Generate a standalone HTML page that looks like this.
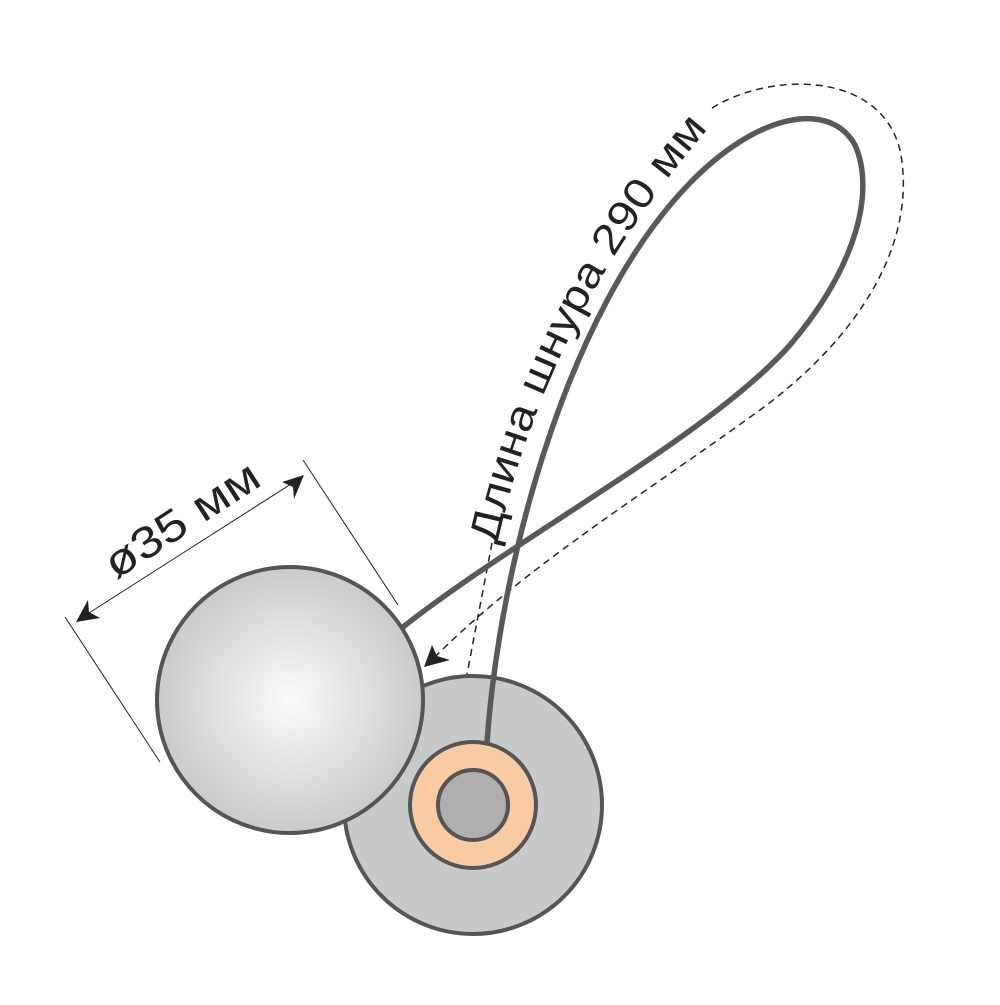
<!DOCTYPE html>
<html><head><meta charset="utf-8"><style>html,body{margin:0;padding:0;background:#fff}</style></head>
<body>
<svg width="1000" height="1000" viewBox="0 0 1000 1000" xmlns="http://www.w3.org/2000/svg">
<defs>
<radialGradient id="g" cx="290" cy="700" r="133" gradientUnits="userSpaceOnUse">
<stop offset="0" stop-color="#fbfbfb"/><stop offset="1" stop-color="#c9caca"/>
</radialGradient>
<path id="tp" d="M497,545 Q548,312 714,122"/>
</defs>
<path d="M712,108 C770,72 880,70 900,150 C918,240 862,335 760,410 C640,497 520,570 430,662" fill="none" stroke="#222" stroke-width="1.5" stroke-dasharray="7,5"/>
<path d="M492,543 L459,716" fill="none" stroke="#222" stroke-width="1.5" stroke-dasharray="7,5"/>
<path d="M424,667 L432,645 L437,656 L450,660 Z" fill="#222"/>
<path d="M458,727 L449,702 L459,709 L470,703 Z" fill="#222"/>
<circle cx="473" cy="805" r="129" fill="#c8c9c9" stroke="#555" stroke-width="4"/>
<circle cx="473" cy="805" r="63" fill="#f8cba2" stroke="#555" stroke-width="4"/>
<circle cx="473" cy="805" r="35" fill="#b0aeae" stroke="#555" stroke-width="4"/>
<path d="M487,742 C500,560 568,310 688,185 C758,112 830,100 855,145 C875,190 858,265 790,345 C710,435 520,535 403,627" fill="none" stroke="#595959" stroke-width="5.5"/>
<circle cx="290" cy="700" r="133" fill="url(#g)" stroke="#555" stroke-width="4"/>
<line x1="65" y1="617" x2="160" y2="762" stroke="#222" stroke-width="1"/>
<line x1="303" y1="460" x2="398" y2="605" stroke="#222" stroke-width="1"/>
<line x1="78" y1="620" x2="302" y2="477" stroke="#222" stroke-width="1"/>
<path d="M76,622 L88,600 L89,612 L100,618 Z" fill="#222"/>
<path d="M304,475 L282,482 L293,487 L294,499 Z" fill="#222"/>
<text x="0" y="0" transform="translate(116,580) rotate(-33)" font-family="'Liberation Sans','DejaVu Sans',sans-serif" font-size="44" fill="#222" textLength="176" lengthAdjust="spacingAndGlyphs">ø35 мм</text>
<text font-family="'Liberation Sans','DejaVu Sans',sans-serif" font-size="42" fill="#222"><textPath href="#tp" textLength="472" lengthAdjust="spacingAndGlyphs">Длина шнура 290 мм</textPath></text>
</svg>
</body></html>
